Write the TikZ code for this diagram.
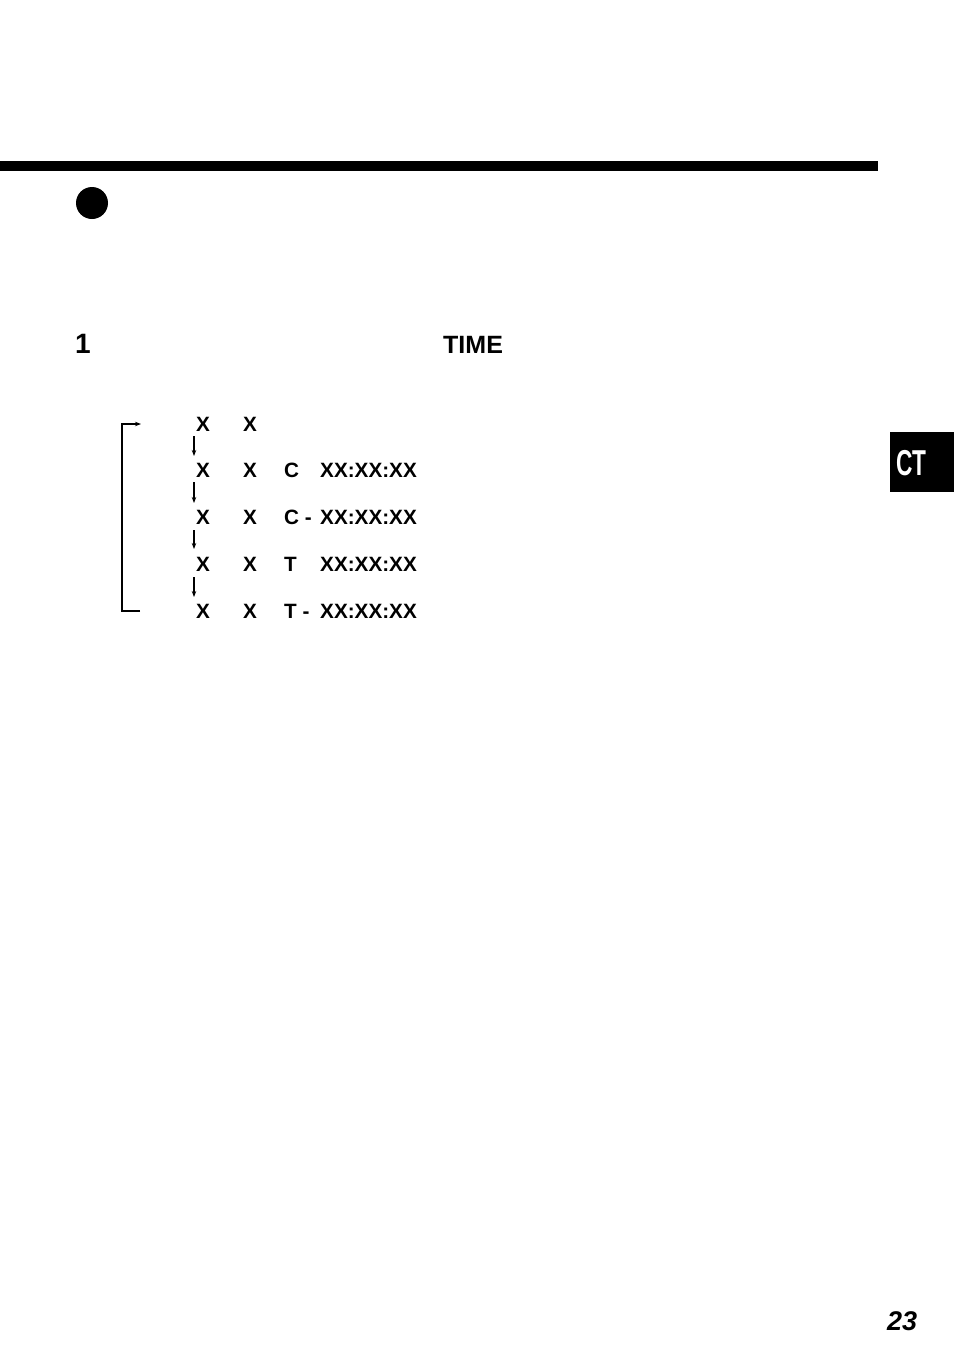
\documentclass[tikz,border=0pt]{standalone}
\usepackage{fontspec}
\setmainfont{Liberation Sans}
\usetikzlibrary{arrows.meta}
\tikzset{
  lbl/.style={inner sep=0pt, anchor=base west, font=\fontsize{20.7}{24}\selectfont\bfseries},
  flow/.style={line width=1.1pt, -{Stealth[length=6pt,width=4.5pt]}},
  loopln/.style={line width=1.2pt},
}
\begin{document}
\begin{tikzpicture}[x=1pt,y=-1pt]
\useasboundingbox (0,0) rectangle (954,1357);
% top bar
\fill (0,161) rectangle (878,171);
% bullet
\fill (92,203) circle (16);
% heading
\node[inner sep=0pt, anchor=base west, font=\fontsize{28}{30}\selectfont\bfseries] (one) at (75,353) {1};
\node[inner sep=0pt, anchor=base west, font=\fontsize{25}{30}\selectfont\bfseries] (time) at (443,353) {TIME};
% rows
\foreach \i/\y in {1/431,2/477,3/524,4/571,5/618}{
  \node[lbl] (a\i) at (196,\y) {X};
  \node[lbl] (b\i) at (243,\y) {X};
}
\node[lbl] (c2) at (284,477) {C};
\node[lbl] (c3) at (284,524) {C -};
\node[lbl] (c4) at (284,571) {T};
\node[lbl] (c5) at (284,618) {T -};
\node[lbl] (t2) at (320,477) {XX:XX:XX};
\node[lbl] (t3) at (320,524) {XX:XX:XX};
\node[lbl] (t4) at (320,571) {XX:XX:XX};
\node[lbl] (t5) at (320,618) {XX:XX:XX};
% down arrows
\coordinate (s1) at (194,436); \coordinate (e1) at (194,456);
\coordinate (s2) at (194,482); \coordinate (e2) at (194,503);
\coordinate (s3) at (194,530); \coordinate (e3) at (194,549);
\coordinate (s4) at (194,577); \coordinate (e4) at (194,597);
\foreach \i in {1,2,3,4}{ \draw[flow] (s\i) -- (e\i); }
% loop back bracket
\coordinate (lb) at (140,611);
\coordinate (lt) at (141,424);
\draw[loopln] (lb) -- (122,611) -- (122,424) -- (134,424);
\draw[flow] (133,424) -- (lt);
% CT tab
\fill (890,432) rectangle (954,492);
\node[inner sep=0pt, anchor=base west, text=white, font=\fontsize{36}{40}\selectfont\bfseries] (ct) at (896,475) {\scalebox{0.63}[1]{CT}};
% page number
\node[inner sep=0pt, anchor=base west, font=\fontsize{27}{30}\selectfont\bfseries\itshape] (pg) at (887,1330) {23};
\end{tikzpicture}
\end{document}
